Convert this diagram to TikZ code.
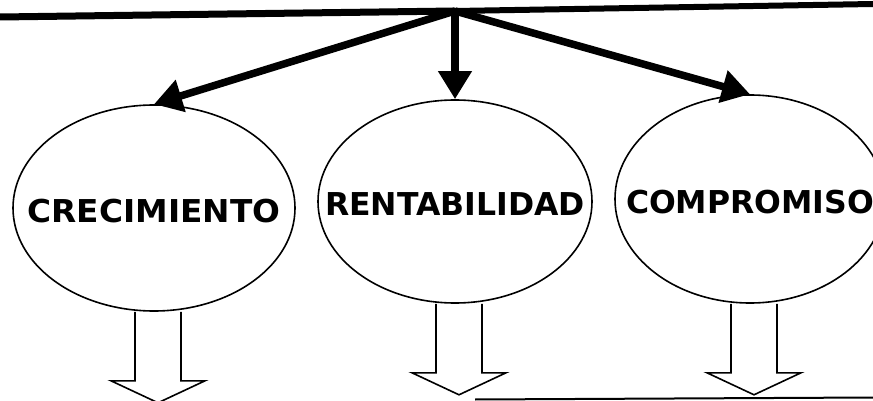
\documentclass[tikz,border=0pt]{standalone}
\usepackage{fontspec}
\setsansfont{DejaVu Sans}
\usetikzlibrary{shapes.geometric,arrows.meta}

\begin{document}
\begin{tikzpicture}[
    x=1pt, y=-1pt,
    big line/.style={-{Triangle[length=28pt,width=32pt]}, line width=7.5pt},
    goal/.style={shape=ellipse, draw, line width=1.6pt, inner sep=0pt},
    goal text/.style={font=\sffamily\bfseries\fontsize{31.5}{31.5}\selectfont, yshift=-3pt},
    hollow arrow/.style={draw, line width=1.6pt, line join=miter},
    node distance=300pt,
]
\useasboundingbox (0,0) rectangle (873,401);
\node[goal, minimum width=274pt, minimum height=203pt,
    label={[goal text]center:RENTABILIDAD}] (obj-2) at (455,201.5) {};
\node[goal, minimum width=282pt, minimum height=206pt, left of=obj-2,
    node distance=301pt, yshift=-6.5pt,
    label={[goal text, xscale=1.04]center:CRECIMIENTO}] (obj-1) {};
\node[goal, minimum width=270pt, minimum height=208pt, right of=obj-2,
    node distance=295pt, yshift=2.5pt,
    label={[goal text]center:COMPROMISO}] (obj-3) {};
% top bar and the three arrows from it
\coordinate (top) at (455,11);
\coordinate (edge-l) at (0,17);
\coordinate (edge-r) at (873,4);
\draw[line width=7pt] (edge-l) -- (top);
\draw[line width=6pt] (top) -- (edge-r);
\path[big line]
    (top) edge (obj-1.north)
    (top) edge (obj-2.north)
    (top) edge (obj-3.north);
% hollow arrows below
\foreach \i in {1,2,3}
    \draw[hollow arrow] (obj-\i.south) ++(-19,0) -- ++(0,69) -- ++(-24,0)
        -- ++(47,22) -- ++(47,-22) -- ++(-24,0) -- ++(0,-69);
\coordinate (base-l) at (475,399.5);
\coordinate (base-r) at (873,397.5);
\draw[line width=2pt] (base-l) -- (base-r);
\end{tikzpicture}
\end{document}
